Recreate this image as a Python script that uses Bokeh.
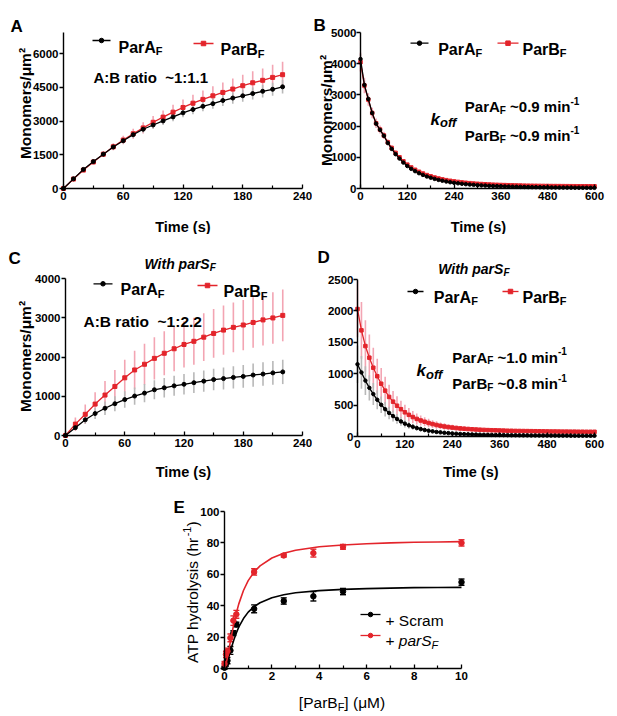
import numpy as np
from bokeh.plotting import figure
from bokeh.layouts import column, row
from bokeh.models import Label, FixedTicker, ColumnDataSource, Whisker, TeeHead
from bokeh.embed import file_html
from bokeh.resources import INLINE

# ---------------- data ----------------
tA = [0, 10, 20, 30, 40, 50, 60, 70, 80, 90, 100, 110, 120, 130, 140, 150, 160, 170, 180, 190, 200, 210, 220]
A_parA = [0, 430, 850, 1200, 1530, 1850, 2130, 2400, 2640, 2830, 3010, 3190, 3370, 3520, 3660, 3780, 3920, 4030, 4130, 4230, 4330, 4420, 4530]
A_parA_err = [0, 30, 50, 70, 90, 110, 120, 140, 150, 165, 180, 190, 200, 210, 220, 230, 240, 250, 260, 270, 280, 290, 300]
A_parB = [0, 420, 820, 1180, 1530, 1860, 2160, 2440, 2700, 2950, 3180, 3400, 3610, 3800, 3970, 4130, 4280, 4430, 4580, 4710, 4820, 4950, 5070]
A_parB_err = [0, 40, 70, 100, 130, 160, 190, 220, 250, 280, 300, 330, 350, 380, 400, 420, 440, 470, 490, 510, 530, 560, 580]

tB = [0, 10, 20, 30, 40, 50, 60, 70, 80, 90, 100, 110, 120, 130, 140, 150, 160, 170, 180, 190,
      200, 210, 220, 230, 240, 250, 260, 270, 280, 290, 300, 310, 320, 330, 340, 350, 360, 370, 380, 390,
      400, 410, 420, 430, 440, 450, 460, 470, 480, 490, 500, 510, 520, 530, 540, 550, 560, 570, 580, 590, 600]
B_parA = [4150, 3320, 2870, 2420, 2080, 1880, 1690, 1460, 1270, 1100, 960, 830, 720, 630, 555, 490, 435, 385, 345, 308,
          276, 248, 223, 201, 182, 166, 151, 138, 127, 117, 108, 100, 93, 86, 80, 75, 70, 66, 62, 58,
          55, 52, 49, 46, 44, 42, 40, 38, 36, 34, 33, 31, 30, 29, 28, 27, 26, 25, 24, 23, 22]
B_parA_err = [150, 130, 110, 100, 90, 80, 70, 65, 60, 55, 50, 45, 42, 40, 38, 36, 34, 32, 30, 28,
              27, 26, 25, 24, 23, 22, 21, 20, 20, 19, 18, 18, 17, 17, 16, 16, 15, 15, 15, 14,
              14, 14, 13, 13, 13, 12, 12, 12, 12, 11, 11, 11, 11, 10, 10, 10, 10, 10, 10, 10, 10]
B_parB = [4050, 3300, 2850, 2420, 2090, 1890, 1700, 1480, 1300, 1140, 1000, 870, 765, 675, 600, 535, 480, 430, 390, 352,
          320, 292, 267, 246, 228, 211, 196, 183, 171, 160, 151, 143, 136, 129, 123, 118, 113, 109, 105, 101,
          98, 95, 92, 90, 88, 86, 84, 82, 81, 79, 78, 77, 76, 75, 74, 73, 72, 72, 71, 70, 70]
B_parB_err = [300, 250, 200, 170, 150, 130, 115, 100, 90, 80, 72, 65, 60, 55, 50, 47, 44, 41, 39, 37,
              35, 33, 31, 30, 29, 28, 27, 26, 25, 24, 23, 22, 22, 21, 21, 20, 20, 19, 19, 18,
              18, 18, 17, 17, 17, 16, 16, 16, 15, 15, 15, 15, 14, 14, 14, 14, 13, 13, 13, 13, 13]

tC = [0, 10, 20, 30, 40, 50, 60, 70, 80, 90, 100, 110, 120, 130, 140, 150, 160, 170, 180, 190, 200, 210, 220]
C_parA = [0, 200, 400, 560, 695, 810, 915, 1005, 1080, 1165, 1215, 1265, 1305, 1345, 1385, 1425, 1450, 1480, 1505, 1540, 1565, 1595, 1620]
C_parA_err = [0, 60, 100, 140, 170, 190, 210, 220, 230, 240, 250, 255, 260, 265, 270, 275, 280, 285, 290, 295, 300, 305, 310]
C_parB = [0, 290, 540, 800, 1030, 1250, 1470, 1670, 1815, 1965, 2095, 2210, 2320, 2400, 2505, 2600, 2685, 2755, 2815, 2880, 2945, 2995, 3060]
C_parB_err = [0, 170, 250, 300, 360, 420, 460, 490, 520, 540, 560, 575, 590, 600, 610, 620, 630, 635, 640, 645, 650, 655, 660]

tD = tB
D_parA = [1150, 1020, 890, 775, 675, 585, 505, 435, 375, 325, 280, 240, 205, 178, 155, 135, 118, 104, 92, 82,
          73, 66, 59, 54, 49, 45, 41, 38, 35, 33, 31, 29, 27, 26, 25, 24, 23, 22, 21, 20,
          20, 19, 18, 18, 17, 17, 16, 16, 15, 15, 15, 14, 14, 14, 13, 13, 13, 13, 12, 12, 12]
D_parA_err = [300, 260, 230, 200, 175, 150, 130, 115, 100, 88, 78, 70, 62, 55, 49, 44, 40, 36, 33, 30,
              28, 26, 24, 22, 20, 19, 18, 17, 16, 15, 14, 13, 13, 12, 12, 11, 11, 10, 10, 10,
              9, 9, 9, 9, 8, 8, 8, 8, 8, 7, 7, 7, 7, 7, 7, 6, 6, 6, 6, 6, 6]
D_parB = [2030, 1690, 1440, 1255, 1095, 960, 840, 730, 630, 555, 490, 435, 385, 345, 310, 280, 255, 235, 215, 198,
          183, 170, 159, 150, 142, 135, 129, 124, 119, 115, 111, 108, 105, 102, 100, 98, 96, 94, 92, 91,
          89, 88, 87, 86, 85, 84, 83, 82, 81, 80, 80, 79, 78, 78, 77, 77, 76, 76, 75, 75, 75]
D_parB_err = [450, 450, 410, 370, 320, 280, 250, 220, 195, 170, 150, 135, 120, 108, 97, 88, 80, 73, 67, 62,
              58, 54, 50, 47, 44, 42, 40, 38, 36, 34, 33, 32, 31, 30, 29, 28, 27, 26, 25, 25,
              24, 24, 23, 23, 22, 22, 21, 21, 21, 20, 20, 20, 19, 19, 19, 18, 18, 18, 18, 17, 17]

E_x = [0, 0.0625, 0.125, 0.25, 0.375, 0.5, 1.25, 2.5, 3.75, 5, 10]
E_scram = [0.5, 3, 5, 11.5, 22.5, 28, 38, 43, 46, 49, 55]
E_scram_err = [1, 1.5, 2, 2.5, 1.5, 1.5, 2.5, 2, 3, 2, 2]
E_pars = [3, 9, 11, 19.5, 30.5, 34.5, 61.5, 72, 73.5, 77.5, 80]
E_pars_err = [1.5, 2, 2, 2.5, 3, 2.5, 2, 1, 2.5, 1.5, 2]
E_fit_x = [0, 0.1, 0.2, 0.3, 0.4, 0.5, 0.6, 0.8, 1.0, 1.25, 1.5, 2, 2.5, 3, 4, 5, 6, 7, 8, 9, 10]
E_fit_pars = [0, 5.2, 13.2, 21.4, 28.9, 35.4, 41.0, 49.7, 56.0, 61.5, 65.4, 70.4, 73.4, 75.3, 77.5, 78.7, 79.5, 80.0, 80.4, 80.6, 80.8]
E_fit_scram = [0, 3.3, 8.5, 13.7, 18.5, 22.7, 26.3, 31.8, 35.9, 39.4, 41.9, 45.1, 47.0, 48.2, 49.6, 50.4, 50.9, 51.2, 51.5, 51.6, 51.7]

# ---------------- styling ----------------
FONT = "Liberation Sans"
RED = "#e3242b"
PINK = "#f3a5b3"
GRAY = "#b8b8b8"

BW = {' ': 278, '(': 333, ')': 333, '+': 584, '-': 333, '.': 278, '/': 278, ':': 333, '~': 584, '[': 333, ']': 333,
      'A': 722, 'B': 722, 'C': 722, 'D': 722, 'E': 667, 'F': 611, 'M': 833, 'P': 667, 'S': 667, 'T': 611, 'W': 944,
      'a': 556, 'c': 556, 'd': 611, 'e': 556, 'f': 333, 'h': 611, 'i': 278, 'k': 556, 'l': 278, 'm': 889, 'n': 611,
      'o': 611, 'p': 611, 'r': 389, 's': 556, 't': 333, 'u': 611, 'y': 556, '\u03bc': 611, '\u00b2': 333}
RW = {' ': 278, '(': 333, ')': 333, '+': 584, '-': 333, '.': 278, '/': 278, ':': 278, '~': 584, '[': 278, ']': 278,
      'A': 667, 'B': 667, 'F': 611, 'M': 833, 'P': 667, 'S': 667, 'T': 611,
      'a': 556, 'c': 500, 'd': 556, 'e': 556, 'f': 278, 'h': 556, 'i': 222, 'l': 222, 'm': 833, 'n': 556,
      'o': 556, 'p': 556, 'r': 333, 's': 500, 't': 278, 'y': 500, '\u03bc': 576}


def twidth(txt, size, st):
    tbl = BW if "bold" in st else RW
    return sum(tbl.get(c, 556) for c in txt) * size / 1000.0


def p2d(G, px, py):
    x = G["x0"] + (px - G["fl"]) / (G["fr"] - G["fl"]) * (G["x1"] - G["x0"])
    y = G["y0"] + (G["fb"] - py) / (G["fb"] - G["ft"]) * (G["y1"] - G["y0"])
    return x, y


def rich(p, G, px, py, segs, angle=0.0, anchor="left"):
    total = sum(twidth(t, s, st) for t, s, st, dy in segs)
    cur = -total / 2 if anchor == "center" else 0.0
    for t, s, st, dy in segs:
        lead = len(t) - len(t.lstrip(" "))
        trail = len(t.lstrip(" ")) - len(t.strip(" "))
        core = t.strip(" ")
        cur += twidth(" " * lead, s, st)
        if angle == 0:
            x, y = p2d(G, px + cur, py + dy)
        else:
            x, y = p2d(G, px + dy, py - cur)
        p.add_layout(Label(x=x, y=y, text=core, text_font=FONT, text_font_size=f"{s}px",
                           text_font_style=st, text_align="left", text_baseline="alphabetic",
                           angle=angle, text_color="black"))
        cur += twidth(core, s, st) + twidth(" " * trail, s, st)


def legend_sample(p, G, px0, px1, py, color, marker):
    x0, y = p2d(G, px0, py)
    x1, _ = p2d(G, px1, py)
    p.line([x0, x1], [y, y], line_color=color, line_width=1.3)
    p.scatter([(x0 + x1) / 2], [y], marker=marker, size=4.5, color=color)


def make_fig(G, ox, oy, W, H):
    # frame covers the whole figure; data region mapped onto the panel's axes box
    sx = (G["x1"] - G["x0"]) / (G["fr"] - G["fl"])
    sy = (G["y1"] - G["y0"]) / (G["fb"] - G["ft"])
    xr = (G["x0"] - (G["fl"] - ox) * sx, G["x1"] + (ox + W - G["fr"]) * sx)
    yr = (G["y0"] - (oy + H - G["fb"]) * sy, G["y1"] + (G["ft"] - oy) * sy)
    p = figure(width=W, height=H, x_range=xr, y_range=yr,
               output_backend="svg", toolbar_location=None, title=None,
               min_border_left=0, min_border_right=0, min_border_top=0, min_border_bottom=0)
    p.outline_line_color = None
    p.xgrid.visible = False
    p.ygrid.visible = False
    p.background_fill_color = "white"
    p.border_fill_color = "white"
    p.xaxis.fixed_location = G["y0"]
    p.yaxis.fixed_location = G["x0"]
    p.xaxis.bounds = (G["x0"], G["x1"])
    p.yaxis.bounds = (G["y0"], G["y1"])
    for ax in (p.xaxis[0], p.yaxis[0]):
        ax.axis_line_width = 1.4
        ax.axis_line_color = "black"
        ax.major_tick_line_width = 1.3
        ax.minor_tick_line_width = 1.2
        ax.major_label_text_font = FONT
        ax.major_label_text_font_style = "bold"
        ax.major_label_text_font_size = "11.5px"
        ax.major_label_text_color = "black"
    p.xaxis.major_tick_in = 4
    p.xaxis.major_tick_out = 0
    p.xaxis.minor_tick_in = 3
    p.xaxis.minor_tick_out = 0
    p.xaxis.major_label_standoff = 3
    p.yaxis.major_tick_in = 0
    p.yaxis.major_tick_out = 4
    p.yaxis.minor_tick_in = 0
    p.yaxis.minor_tick_out = 0
    p.yaxis.major_label_standoff = 1
    return p


def series(p, t, v, e, ecolor):
    lo = [a - b for a, b in zip(v, e)]
    hi = [a + b for a, b in zip(v, e)]
    src = ColumnDataSource(dict(t=t, v=v, lo=lo, hi=hi))
    p.segment(x0="t", y0="lo", x1="t", y1="hi", source=src, line_color=ecolor, line_width=1.6)
    return src


def draw_lines(p, src, color, marker, msize):
    p.line("t", "v", source=src, line_color=color, line_width=1.3)
    p.scatter("t", "v", source=src, marker=marker, size=msize, color=color)


# ---------------- panel geometry (page pixels) ----------------
GA = dict(fl=63, fr=302, ft=32, fb=188, x0=0, x1=240, y0=0, y1=6950)
GB = dict(fl=360, fr=594, ft=32, fb=188, x0=0, x1=600, y0=0, y1=5000)
GC = dict(fl=65, fr=302, ft=278, fb=435, x0=0, x1=240, y0=0, y1=4000)
GD = dict(fl=357, fr=594, ft=279, fb=436, x0=0, x1=600, y0=0, y1=2500)
GE = dict(fl=224, fr=461, ft=511, fb=668, x0=0, x1=10, y0=0, y1=100)

TIME_SEGS = [("Time (s)", 14.5, "bold", 0)]
YLAB_SEGS = [("Monomers/\u03bcm\u00b2", 15.5, "bold", 0)]

# ---------------- Panel A ----------------
pA = make_fig(GA, 0, 0, 312, 234)
pA.xaxis.ticker = FixedTicker(ticks=[0, 60, 120, 180, 240], minor_ticks=[30, 90, 150, 210])
pA.yaxis.ticker = FixedTicker(ticks=[0, 1500, 3000, 4500, 6000])
sAb = series(pA, tA, A_parB, A_parB_err, PINK)
sAa = series(pA, tA, A_parA, A_parA_err, GRAY)
draw_lines(pA, sAb, RED, "square", 4)
draw_lines(pA, sAa, "black", "circle", 4)
rich(pA, GA, 10, 26, [("A", 17, "bold", 0)])
rich(pA, GA, 25, 103, YLAB_SEGS, angle=np.pi / 2, anchor="center")
rich(pA, GA, 182.5, 226.5, TIME_SEGS, anchor="center")
legend_sample(pA, GA, 92, 110, 40, "black", "circle")
rich(pA, GA, 118, 46.5, [("ParA", 16, "bold", 0), ("F", 11, "bold", 4)])
legend_sample(pA, GA, 193, 213, 43, RED, "square")
rich(pA, GA, 220, 49, [("ParB", 16, "bold", 0), ("F", 11, "bold", 4)])
rich(pA, GA, 93, 76.5, [("A:B ratio  ", 15, "bold", 0), ("~1:1.1", 15, "bold", 0)])

# ---------------- Panel B ----------------
pB = make_fig(GB, 312, 0, 305, 234)
pB.xaxis.ticker = FixedTicker(ticks=[0, 120, 240, 360, 480, 600], minor_ticks=[60, 180, 300, 420, 540])
pB.yaxis.ticker = FixedTicker(ticks=[0, 1000, 2000, 3000, 4000, 5000])
pB.yaxis.major_label_standoff = 0
sBb = series(pB, tB, B_parB, B_parB_err, PINK)
sBa = series(pB, tB, B_parA, B_parA_err, GRAY)
draw_lines(pB, sBb, RED, "square", 3.5)
draw_lines(pB, sBa, "black", "circle", 3.5)
rich(pB, GB, 313, 25, [("B", 17, "bold", 0)])
rich(pB, GB, 326, 110, YLAB_SEGS, angle=np.pi / 2, anchor="center")
rich(pB, GB, 478, 226.5, TIME_SEGS, anchor="center")
legend_sample(pB, GB, 410, 428, 42.7, "black", "circle")
rich(pB, GB, 437.7, 48.5, [("ParA", 16, "bold", 0), ("F", 11, "bold", 4)])
legend_sample(pB, GB, 497, 518, 42.7, RED, "square")
rich(pB, GB, 522, 48.5, [("ParB", 16, "bold", 0), ("F", 11, "bold", 4)])
rich(pB, GB, 430, 118.5, [("k", 17, "bold italic", 0), ("off", 13, "bold italic", 3.5)])
rich(pB, GB, 464.3, 106, [("ParA", 15, "bold", 0), ("F", 10, "bold", 3.5), (" ~0.9 min", 15, "bold", 0), ("-1", 10, "bold", -6)])
rich(pB, GB, 464.3, 135, [("ParB", 15, "bold", 0), ("F", 10, "bold", 3.5), (" ~0.9 min", 15, "bold", 0), ("-1", 10, "bold", -6)])

# ---------------- Panel C ----------------
pC = make_fig(GC, 0, 234, 312, 246)
pC.xaxis.ticker = FixedTicker(ticks=[0, 60, 120, 180, 240], minor_ticks=[30, 90, 150, 210])
pC.yaxis.ticker = FixedTicker(ticks=[0, 1000, 2000, 3000, 4000])
sCb = series(pC, tC, C_parB, C_parB_err, PINK)
sCa = series(pC, tC, C_parA, C_parA_err, GRAY)
draw_lines(pC, sCb, RED, "square", 4)
draw_lines(pC, sCa, "black", "circle", 4)
rich(pC, GC, 8, 258, [("C", 17, "bold", 0)])
rich(pC, GC, 144, 263, [("With parS", 14, "bold italic", 0), ("F", 10, "bold italic", 3.5)])
rich(pC, GC, 25, 356, YLAB_SEGS, angle=np.pi / 2, anchor="center")
rich(pC, GC, 183, 471, TIME_SEGS, anchor="center")
legend_sample(pC, GC, 93, 112, 283.3, "black", "circle")
rich(pC, GC, 120, 289, [("ParA", 16, "bold", 0), ("F", 11, "bold", 4)])
legend_sample(pC, GC, 197, 217, 285, RED, "square")
rich(pC, GC, 223, 291, [("ParB", 16, "bold", 0), ("F", 11, "bold", 4)])
rich(pC, GC, 83, 321, [("A:B ratio  ", 15.5, "bold", 0), ("~1:2.2", 15.5, "bold", 0)])

# ---------------- Panel D ----------------
pD = make_fig(GD, 312, 234, 305, 246)
pD.xaxis.ticker = FixedTicker(ticks=[0, 120, 240, 360, 480, 600], minor_ticks=[60, 180, 300, 420, 540])
pD.yaxis.ticker = FixedTicker(ticks=[0, 500, 1000, 1500, 2000, 2500])
pD.yaxis.major_label_standoff = 0
sDb = series(pD, tD, D_parB, D_parB_err, PINK)
sDa = series(pD, tD, D_parA, D_parA_err, GRAY)
draw_lines(pD, sDb, RED, "square", 3.5)
draw_lines(pD, sDa, "black", "circle", 3.5)
rich(pD, GD, 317, 256.5, [("D", 17, "bold", 0)])
rich(pD, GD, 437.7, 268, [("With parS", 14, "bold italic", 0), ("F", 10, "bold italic", 3.5)])
rich(pD, GD, 470.5, 471, TIME_SEGS, anchor="center")
legend_sample(pD, GD, 407, 423, 291, "black", "circle")
rich(pD, GD, 433.3, 296.5, [("ParA", 16, "bold", 0), ("F", 11, "bold", 4)])
legend_sample(pD, GD, 502, 518, 291, RED, "square")
rich(pD, GD, 522, 296.5, [("ParB", 16, "bold", 0), ("F", 11, "bold", 4)])
rich(pD, GD, 416, 370, [("k", 17, "bold italic", 0), ("off", 13, "bold italic", 3.5)])
rich(pD, GD, 451.7, 356.5, [("ParA", 15, "bold", 0), ("F", 10, "bold", 3.5), (" ~1.0 min", 15, "bold", 0), ("-1", 10, "bold", -6)])
rich(pD, GD, 451.7, 383, [("ParB", 15, "bold", 0), ("F", 10, "bold", 3.5), (" ~0.8 min", 15, "bold", 0), ("-1", 10, "bold", -6)])

# ---------------- Panel E ----------------
pE = make_fig(GE, 0, 480, 617, 236)
pE.xaxis.ticker = FixedTicker(ticks=[0, 2, 4, 6, 8, 10], minor_ticks=[1, 3, 5, 7, 9])
pE.yaxis.ticker = FixedTicker(ticks=[0, 20, 40, 60, 80, 100])
for yv, ev, fit, col in ((E_scram, E_scram_err, E_fit_scram, "black"), (E_pars, E_pars_err, E_fit_pars, RED)):
    src = ColumnDataSource(dict(x=E_x, y=yv, lo=[a - b for a, b in zip(yv, ev)], hi=[a + b for a, b in zip(yv, ev)]))
    pE.line(E_fit_x, fit, line_color=col, line_width=1.6)
    pE.add_layout(Whisker(source=src, base="x", lower="lo", upper="hi", line_color=col, line_width=1.4,
                          upper_head=TeeHead(size=6, line_color=col, line_width=1.4),
                          lower_head=TeeHead(size=6, line_color=col, line_width=1.4)))
    pE.scatter("x", "y", source=src, marker="circle", size=5.5, color=col)
rich(pE, GE, 173, 506.5, [("E", 17, "bold", 0)])
rich(pE, GE, 192, 591.7, [("ATP hydrolysis (hr", 15.5, "normal", 0), ("-1", 11, "normal", -6), (")", 15.5, "normal", 0)],
     angle=np.pi / 2, anchor="center")
rich(pE, GE, 341.5, 702, [("[ParB", 15.5, "normal", 0), ("F", 11, "normal", 4), ("] (\u03bcM)", 15.5, "normal", 0)],
     anchor="center")
legend_sample(pE, GE, 360, 380, 614, "black", "circle")
rich(pE, GE, 385, 620, [("+ Scram", 15.5, "normal", 0)])
legend_sample(pE, GE, 360, 380, 635, RED, "circle")
rich(pE, GE, 385, 640, [("+ ", 15.5, "normal", 0), ("parS", 15.5, "italic", 0), ("F", 11, "italic", 4)])

layout = column(row(pA, pB), row(pC, pD), pE)
open("out.html", "w").write(file_html(layout, INLINE))
